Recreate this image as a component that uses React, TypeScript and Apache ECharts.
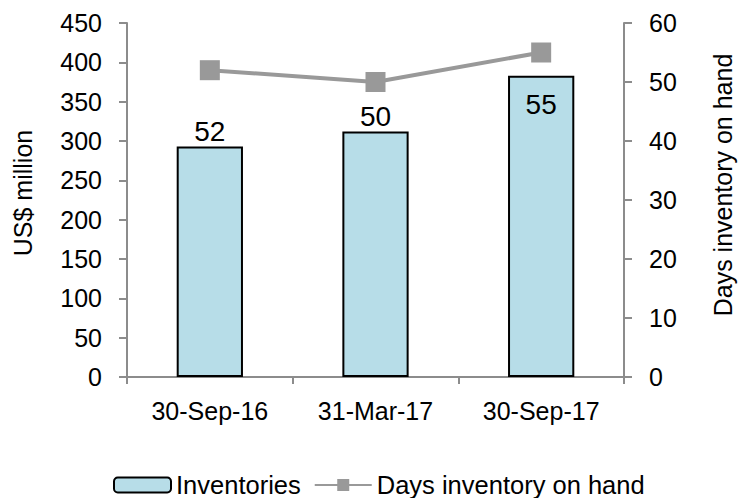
import React, { useEffect, useRef } from "react";
import * as echarts from "echarts";

// Reporting dates
const categories = ["30-Sep-16", "31-Mar-17", "30-Sep-17"];
// Inventories, US$ million
const inventories = [293, 312, 383];
// Days inventory on hand
const daysOnHand = [52, 50, 55];

const FONT = "'Liberation Sans', Arial, sans-serif";
const AXIS_GREY = "#8c8c8c";

export default function App() {
  const ref = useRef<HTMLDivElement>(null);

  useEffect(() => {
    if (!ref.current) return;
    const chart = echarts.init(ref.current, undefined, { renderer: "svg" });

    // The last bar is tall enough that its label sits inside the top of the bar.
    const insideTop = (i: number) => i === inventories.length - 1;

    const barData = inventories.map((v, i) => ({
      value: v,
      label: insideTop(i)
        ? { position: "insideTop" as const, distance: 15 }
        : { position: "top" as const, distance: 1 },
    }));

    chart.setOption({
      animation: false,
      backgroundColor: "#ffffff",
      textStyle: { fontFamily: FONT },
      grid: { left: 127, right: 114, top: 23, bottom: 121, containLabel: false },
      legend: {
        left: 113,
        top: 472,
        padding: 0,
        itemWidth: 57,
        itemHeight: 15,
        itemGap: 13,
        textStyle: { fontFamily: FONT, fontSize: 25.5, color: "#000" },
        data: ["Inventories", "Days inventory on hand"],
      },
      xAxis: {
        type: "category",
        data: categories,
        axisLine: { lineStyle: { color: AXIS_GREY, width: 2 } },
        axisTick: { show: true, length: 7, lineStyle: { color: AXIS_GREY, width: 2 } },
        axisLabel: { fontFamily: FONT, fontSize: 25, color: "#000", margin: 21 },
      },
      yAxis: [
        {
          type: "value",
          min: 0,
          max: 450,
          interval: 50,
          position: "left",
          splitLine: { show: false },
          axisLine: { show: true, lineStyle: { color: AXIS_GREY, width: 2 } },
          axisTick: { show: true, length: 8, lineStyle: { color: AXIS_GREY, width: 2 } },
          axisLabel: { fontFamily: FONT, fontSize: 25, color: "#000", margin: 25 },
        },
        {
          type: "value",
          min: 0,
          max: 60,
          interval: 10,
          position: "right",
          splitLine: { show: false },
          axisLine: { show: true, lineStyle: { color: AXIS_GREY, width: 2 } },
          axisTick: { show: true, length: 8, lineStyle: { color: AXIS_GREY, width: 2 } },
          axisLabel: { fontFamily: FONT, fontSize: 25, color: "#000", margin: 25 },
        },
      ],
      series: [
        {
          name: "Inventories",
          type: "bar",
          yAxisIndex: 0,
          barWidth: "40%",
          data: barData,
          itemStyle: { color: "#b7dde8", borderColor: "#000000", borderWidth: 2 },
          label: {
            show: true,
            fontFamily: FONT,
            fontSize: 28,
            color: "#000",
            formatter: (p: any) => String(daysOnHand[p.dataIndex]),
          },
          z: 2,
        },
        {
          name: "Days inventory on hand",
          type: "line",
          yAxisIndex: 1,
          data: daysOnHand,
          symbol: "rect",
          symbolSize: 20,
          itemStyle: { color: "#999999" },
          lineStyle: { color: "#999999", width: 4 },
          z: 3,
        },
      ],
      graphic: [
        {
          type: "text",
          x: 23,
          y: 193,
          rotation: Math.PI / 2,
          style: {
            text: "US$ million",
            fontFamily: FONT,
            fontSize: 25,
            fill: "#000",
            align: "center",
            verticalAlign: "middle",
          },
        },
        {
          type: "text",
          x: 723,
          y: 185,
          rotation: Math.PI / 2,
          style: {
            text: "Days inventory on hand",
            fontFamily: FONT,
            fontSize: 25,
            fill: "#000",
            align: "center",
            verticalAlign: "middle",
          },
        },
      ],
    });

    return () => chart.dispose();
  }, []);

  return (
    <div
      ref={ref}
      style={{ position: "fixed", left: 0, top: 0, width: 738, height: 498, background: "#fff" }}
    />
  );
}
